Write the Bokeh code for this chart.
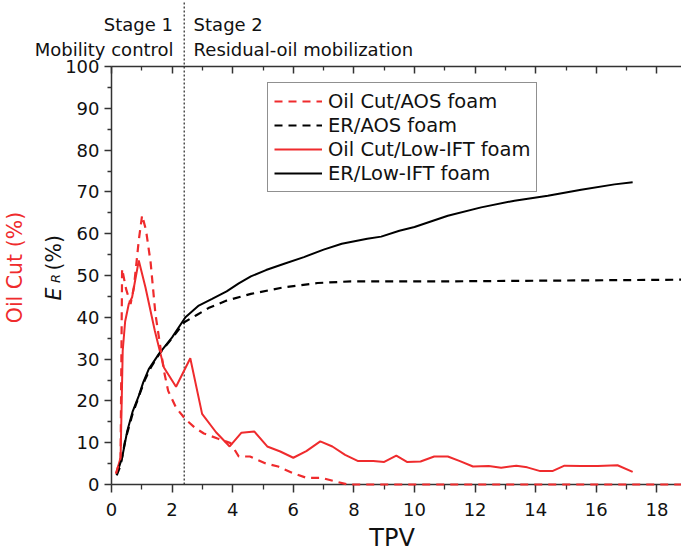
import math
from bokeh.plotting import figure
from bokeh.models import (Range1d, FixedTicker, Label, Legend, LegendItem, LinearAxis)
from bokeh.embed import file_html
from bokeh.resources import INLINE

# ---- data ----
tpv_oil_aos = [0.15, 0.30, 0.35, 0.48, 0.63, 0.74, 0.90, 1.01, 1.14, 1.29, 1.45, 1.73, 1.87,
               2.13, 2.44, 2.75, 3.05, 3.50, 3.93, 4.20, 4.57, 5.07, 5.50, 6.00, 6.43, 6.93,
               7.36, 7.79, 18.8]
oil_cut_aos = [2.6, 6.4, 51.6, 46.8, 43.2, 47.2, 58.4, 64.4, 60.8, 53.2, 40.8, 27.2, 22.4,
               18.4, 15.6, 13.6, 12.2, 11.0, 9.9, 6.7, 6.7, 5.1, 4.3, 2.7, 1.6, 1.6,
               0.8, 0.0, 0.0]

tpv_er_aos = [0.17, 0.30, 0.45, 0.70, 0.90, 1.10, 1.30, 1.60, 2.00, 2.40, 2.80, 3.20, 3.80,
              4.60, 5.70, 6.80, 7.90, 9.40, 11.0, 13.0, 15.0, 17.0, 18.8]
er_aos = [2.2, 4.5, 10.5, 17.0, 21.0, 25.0, 28.0, 31.5, 35.0, 38.8, 40.5, 42.2, 44.0,
          45.6, 47.2, 48.2, 48.6, 48.6, 48.6, 48.7, 48.8, 48.9, 49.0]

tpv_oil_lift = [0.15, 0.30, 0.37, 0.45, 0.57, 0.68, 0.90, 1.12, 1.43, 1.73, 2.13, 2.60, 2.99,
                3.45, 3.90, 4.29, 4.71, 5.14, 5.57, 6.00, 6.43, 6.89, 7.29, 7.71, 8.14, 8.64,
                9.00, 9.40, 9.75, 10.2, 10.65, 11.1, 11.5, 11.93, 12.45, 12.86, 13.36, 13.72,
                14.15, 14.55, 14.95, 15.5, 16.05, 16.7, 17.2]
oil_cut_lift = [2.6, 6.4, 32.0, 39.0, 43.2, 44.8, 53.6, 47.2, 36.8, 28.0, 23.4, 30.2, 16.9,
                12.5, 9.1, 12.4, 12.7, 9.1, 7.9, 6.4, 8.0, 10.3, 9.1, 7.1, 5.6, 5.6,
                5.4, 6.9, 5.4, 5.5, 6.7, 6.7, 5.6, 4.3, 4.4, 4.0, 4.5, 4.1,
                3.2, 3.2, 4.5, 4.4, 4.4, 4.6, 3.0]

tpv_er_lift = [0.17, 0.35, 0.52, 0.70, 0.90, 1.05, 1.23, 1.56, 2.00, 2.44, 2.88, 3.32, 3.80,
               4.20, 4.60, 5.10, 5.70, 6.35, 7.00, 7.60, 8.44, 8.90, 9.50, 10.0, 11.1, 12.2,
               13.3, 14.4, 15.5, 16.6, 17.2]
er_lift = [2.4, 6.4, 12.8, 17.5, 21.2, 24.5, 27.6, 31.2, 35.2, 40.0, 42.8, 44.4, 46.2,
           48.1, 49.8, 51.3, 52.8, 54.4, 56.2, 57.6, 58.8, 59.3, 60.7, 61.6, 64.3, 66.3,
           67.9, 69.1, 70.5, 71.8, 72.3]

stage_boundary = 2.4
x_major = list(range(0, 20, 2))
x_minor = list(range(1, 20, 2))
y_major = list(range(0, 101, 10))
y_minor = list(range(5, 100, 10))

RED = "#ef2b2d"
INK = "#333333"
FONT = "DejaVu Sans"

# The data frame fills the whole canvas; axes sit at fixed data positions so that
# titles and stage notes placed around them are drawn without clipping.
W, H = 681, 554
LEFT, BOTTOM = 111, 70          # pixel offset of the (0, 0) corner
PX_X, PX_Y = 30.3, 4.18         # pixels per data unit
x_lo, x_hi = -LEFT / PX_X, (W - LEFT) / PX_X
y_lo, y_hi = -BOTTOM / PX_Y, (H - BOTTOM) / PX_Y

p = figure(width=W, height=H, output_backend="svg", toolbar_location=None,
           x_range=Range1d(x_lo, x_hi), y_range=Range1d(y_lo, y_hi),
           min_border=0)
p.outline_line_color = None
p.xgrid.visible = False
p.ygrid.visible = False
p.background_fill_color = "white"
p.border_fill_color = "white"


def style_axis(ax):
    ax.axis_line_width = 1.5
    ax.axis_line_color = INK
    ax.major_tick_line_width = 1.5
    ax.minor_tick_line_width = 1.3
    ax.major_tick_line_color = INK
    ax.minor_tick_line_color = INK
    ax.major_label_text_font = FONT
    ax.major_label_text_font_size = "18px"
    ax.major_label_text_color = "#111111"


xa = p.xaxis[0]
style_axis(xa)
xa.fixed_location = 0
xa.bounds = (0, x_hi)
xa.ticker = FixedTicker(ticks=x_major, minor_ticks=x_minor)
xa.major_tick_in = 0
xa.minor_tick_in = 0
xa.major_tick_out = 8
xa.minor_tick_out = 5
xa.major_label_standoff = 10

ya = p.yaxis[0]
style_axis(ya)
ya.fixed_location = 0
ya.bounds = (0, 100)
ya.ticker = FixedTicker(ticks=y_major, minor_ticks=y_minor)
ya.major_tick_in = 0
ya.minor_tick_in = 0
ya.major_tick_out = 7
ya.minor_tick_out = 4
ya.major_label_standoff = 5

# top border of the data area, ticks pointing inward, no labels
top = LinearAxis(fixed_location=100, bounds=(0, x_hi),
                 ticker=FixedTicker(ticks=x_major, minor_ticks=x_minor))
style_axis(top)
top.major_tick_out = 0
top.minor_tick_out = 0
top.major_tick_in = 7
top.minor_tick_in = 4
top.major_label_text_color = None
top.major_label_text_font_size = "1px"
p.add_layout(top, "above")

# stage boundary (dotted), running from the x axis up through the stage notes
p.segment(x0=[stage_boundary], y0=[0], x1=[stage_boundary], y1=[y_hi],
          line_color=INK, line_width=1.3, line_dash="2 2")

# curves
r1 = p.line(tpv_oil_aos, oil_cut_aos, line_color=RED, line_width=2.2, line_dash="8 6")
r1.level = "overlay"   # keep the dashes visible where they run along the x axis
r2 = p.line(tpv_er_aos, er_aos, line_color="black", line_width=2.2, line_dash="8 6")
r3 = p.line(tpv_oil_lift, oil_cut_lift, line_color=RED, line_width=2.0)
r4 = p.line(tpv_er_lift, er_lift, line_color="black", line_width=2.0)

legend = Legend(items=[
    LegendItem(label="Oil Cut/AOS foam", renderers=[r1]),
    LegendItem(label="ER/AOS foam", renderers=[r2]),
    LegendItem(label="Oil Cut/Low-IFT foam", renderers=[r3]),
    LegendItem(label="ER/Low-IFT foam", renderers=[r4]),
], location=(267, H - 192))
legend.label_text_font = FONT
legend.label_text_font_size = "19.5px"
legend.label_text_color = "#111111"
legend.glyph_width = 48
legend.glyph_height = 24
legend.label_height = 24
legend.label_standoff = 6
legend.spacing = 0
legend.padding = 6
legend.margin = 0
legend.border_line_color = "#222222"
legend.border_line_width = 1.5
legend.background_fill_alpha = 1.0
p.add_layout(legend, "center")


def text(x, y, s, size, align="left", baseline="alphabetic", color="#111111",
         style="normal", angle=0.0):
    p.add_layout(Label(x=x, y=y, text=s, text_font=FONT, text_font_size=size,
                       text_align=align, text_baseline=baseline, text_color=color,
                       text_font_style=style, angle=angle))


# stage notes
text(2.03, 110.0, "Stage 1", "18px", align="right")
text(2.05, 104.0, "Mobility control", "18px", align="right")
text(2.71, 110.0, "Stage 2", "18px")
text(2.71, 104.0, "Residual-oil mobilization", "18px")

# axis titles
text(9.26, -12.7, "TPV", "24px", align="center", baseline="middle")
text(-3.17, 51.9, "Oil Cut (%)", "20.5px", align="center", baseline="middle",
     color=RED, angle=math.pi / 2)
text(-1.914, 44.0, "E", "20.5px", style="italic", angle=math.pi / 2)
text(-1.848, 48.2, "R", "13px", style="italic", angle=math.pi / 2)
text(-1.914, 51.2, "(%)", "20.5px", angle=math.pi / 2)

open("out.html", "w").write(file_html(p, INLINE))
